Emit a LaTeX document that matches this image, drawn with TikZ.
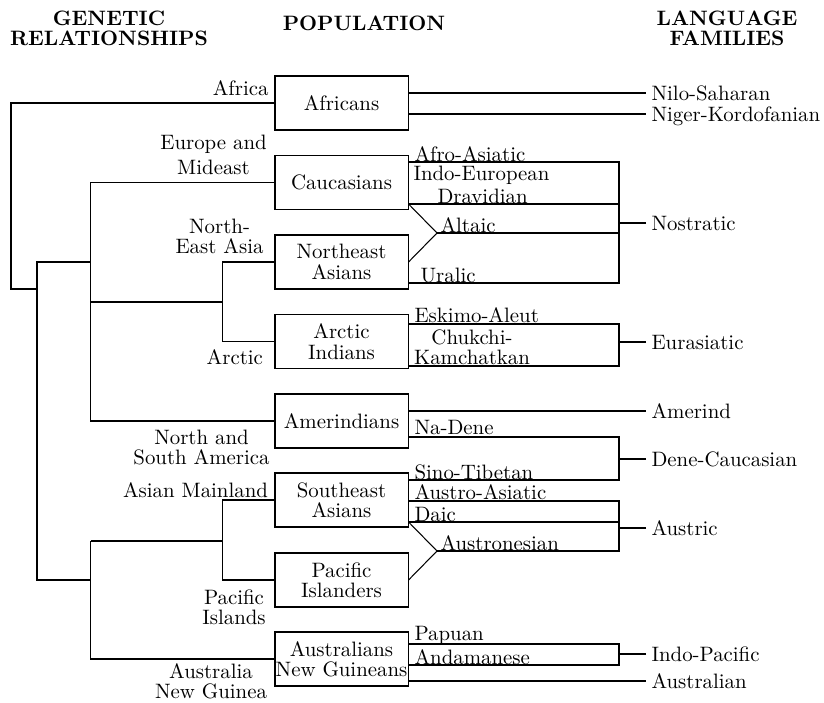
\documentclass[tikz,border=0pt]{standalone}
\begin{document}
\begin{tikzpicture}[x=0.4796pt,y=-0.4796pt, line width=0.5pt,
  box/.style={draw, rectangle, minimum width=63.8pt, minimum height=25.9pt, inner sep=0pt, align=center, font=\fontsize{10}{9.8}\selectfont},
  glab/.style={inner sep=0pt, align=center, font=\fontsize{10}{9.6}\selectfont},
  lab/.style={inner sep=0pt, text height=6.9pt, text depth=0pt, anchor=west},
  fam/.style={inner xsep=2.4pt, inner ysep=0pt, text height=6.9pt, text depth=0pt, anchor=west},
  head/.style={inner sep=0pt, align=center, font=\bfseries\fontsize{10}{9.6}\selectfont}]
\useasboundingbox (0,0) rectangle (824,702);

% headers
\node[head] (hg) at (109,28.5) {GENETIC\\RELATIONSHIPS};
\node[head] (hp) at (364,23.5) {POPULATION};
\node[head] (hl) at (727,28.5) {LANGUAGE\\FAMILIES};

% population boxes
\node[box] (af)  at (341.5,103)   {Africans};
\node[box] (cau) at (341.5,182.5) {Caucasians};
\node[box] (ne)  at (341.5,262)   {Northeast\\Asians};
\node[box] (arc) at (341.5,341.5) {Arctic\\Indians};
\node[box] (ame) at (341.5,421)   {Amerindians};
\node[box] (se)  at (341.5,500)   {Southeast\\Asians};
\node[box] (pac) at (341.5,580)   {Pacific\\Islanders};
\node[box] (aus) at (341.5,659)   {Australians\\New Guineans};

% genetic labels
\node[glab, anchor=east] (lafr) at (269,88) {Africa};
\node[glab, font=\fontsize{10}{12}\selectfont] (leur) at (213.5,154.5) {Europe and\\Mideast};
\node[glab] (lnea) at (219.5,236) {North-\\East Asia};
\node[glab, anchor=east] (larc) at (263.5,357) {Arctic};
\node[glab] (lam) at (201.5,447) {North and\\South America};
\node[glab, anchor=east] (lasm) at (268.5,490) {Asian Mainland};
\node[glab] (lpac) at (234,607) {Pacific\\Islands};
\node[glab] (laus) at (211,681) {Australia\\New Guinea};

% tree junctions
\coordinate (j1) at (11,289);
\coordinate (j2) at (37,289);
\coordinate (jU) at (90.7,262);
\coordinate (jL) at (90.7,580);
\coordinate (jNA) at (222.7,302);
\coordinate (jSP) at (222.7,541);

\draw (af.west) -| (j1) -- (j2);
\draw (jU) -- (jU -| j2) -- (jL -| j2) -- (jL);
\draw (cau.west) -| (jU) |- (ame.west);
\draw (jU |- jNA) -- (jNA);
\draw (ne.west) -| (jNA) |- (arc.west);
\draw (jSP -| jL) -- (jSP);
\draw (jSP -| jL) |- (aus.west);
\draw (se.west) -| (jSP) |- (pac.west);

% sub-family labels
\node[lab] (afro) at (414,154) {Afro-Asiatic};
\node[lab] (indo) at (413,173) {Indo-European};
\node[lab] (drav) at (437,196) {Dravidian};
\node[lab] (alta) at (440,225) {Altaic};
\node[lab] (ural) at (420,275) {Uralic};
\node[lab] (esk)  at (414,315) {Eskimo-Aleut};
\node[glab] (chuk) at (472,347.5) {Chukchi-\\Kamchatkan};
\node[lab] (nad)  at (414,427) {Na-Dene};
\node[lab] (sino) at (414,472) {Sino-Tibetan};
\node[lab] (aaa)  at (414,492) {Austro-Asiatic};
\node[lab] (daic) at (414,514) {Daic};
\node[lab] (austn) at (440,543) {Austronesian};
\node[lab] (pap)  at (414,633) {Papuan};
\node[lab] (anda) at (414,657) {Andamanese};

% family labels
\node[fam] (nilo)  at (646,93)  {Nilo-Saharan};
\node[fam] (niger) at (646,114) {Niger-Kordofanian};
\node[fam] (nost)  at (646,223) {Nostratic};
\node[fam] (eura)  at (646,342) {Eurasiatic};
\node[fam] (amer)  at (646,411) {Amerind};
\node[fam] (dene)  at (646,459) {Dene-Caucasian};
\node[fam] (austr) at (646,528) {Austric};
\node[fam] (indp)  at (646,654) {Indo-Pacific};
\node[fam] (ausl)  at (646,681) {Australian};

% Africans
\draw (af.east |- nilo.west) -- (nilo.west);
\draw (af.east |- niger.west) -- (niger.west);

% Nostratic
\coordinate (nT) at (619,162);
\coordinate (nD) at (619,204);
\coordinate (nA) at (619,233);
\coordinate (nB) at (619,283);
\coordinate (nV) at (437,233);
\draw (cau.east |- nT) -- (nT) -- (nB) -- (ne.east |- nB);
\draw (cau.east |- nD) -- (nD);
\draw (nV) -- (nA);
\draw (cau.east |- nD) -- (nV) -- (ne.east);
\draw (nost.west) -- (nost.west -| nT);

% Eurasiatic
\coordinate (eT) at (619,324);
\coordinate (eB) at (619,366);
\draw (arc.east |- eT) -- (eT) -- (eB) -- (arc.east |- eB);
\draw (eura.west) -- (eura.west -| eT);

% Amerind
\draw (ame.east |- amer.west) -- (amer.west);

% Dene-Caucasian
\coordinate (dT) at (619,437);
\coordinate (dB) at (619,480);
\draw (ame.east |- dT) -- (dT) -- (dB) -- (se.east |- dB);
\draw (dene.west) -- (dene.west -| dT);

% Austric
\coordinate (aT) at (619,501);
\coordinate (aD) at (619,522);
\coordinate (aB) at (619,551);
\coordinate (aV) at (437,551);
\draw (se.east |- aT) -- (aT) -- (aB) -- (aV);
\draw (se.east |- aD) -- (aD);
\draw (se.east |- aD) -- (aV) -- (pac.east);
\draw (austr.west) -- (austr.west -| aT);

% Indo-Pacific
\coordinate (iT) at (619,644);
\coordinate (iB) at (619,665);
\draw (aus.east |- iT) -- (iT) -- (iB) -- (aus.east |- iB);
\draw (indp.west) -- (indp.west -| iT);
\draw (aus.east |- ausl.west) -- (ausl.west);
\end{tikzpicture}
\end{document}
